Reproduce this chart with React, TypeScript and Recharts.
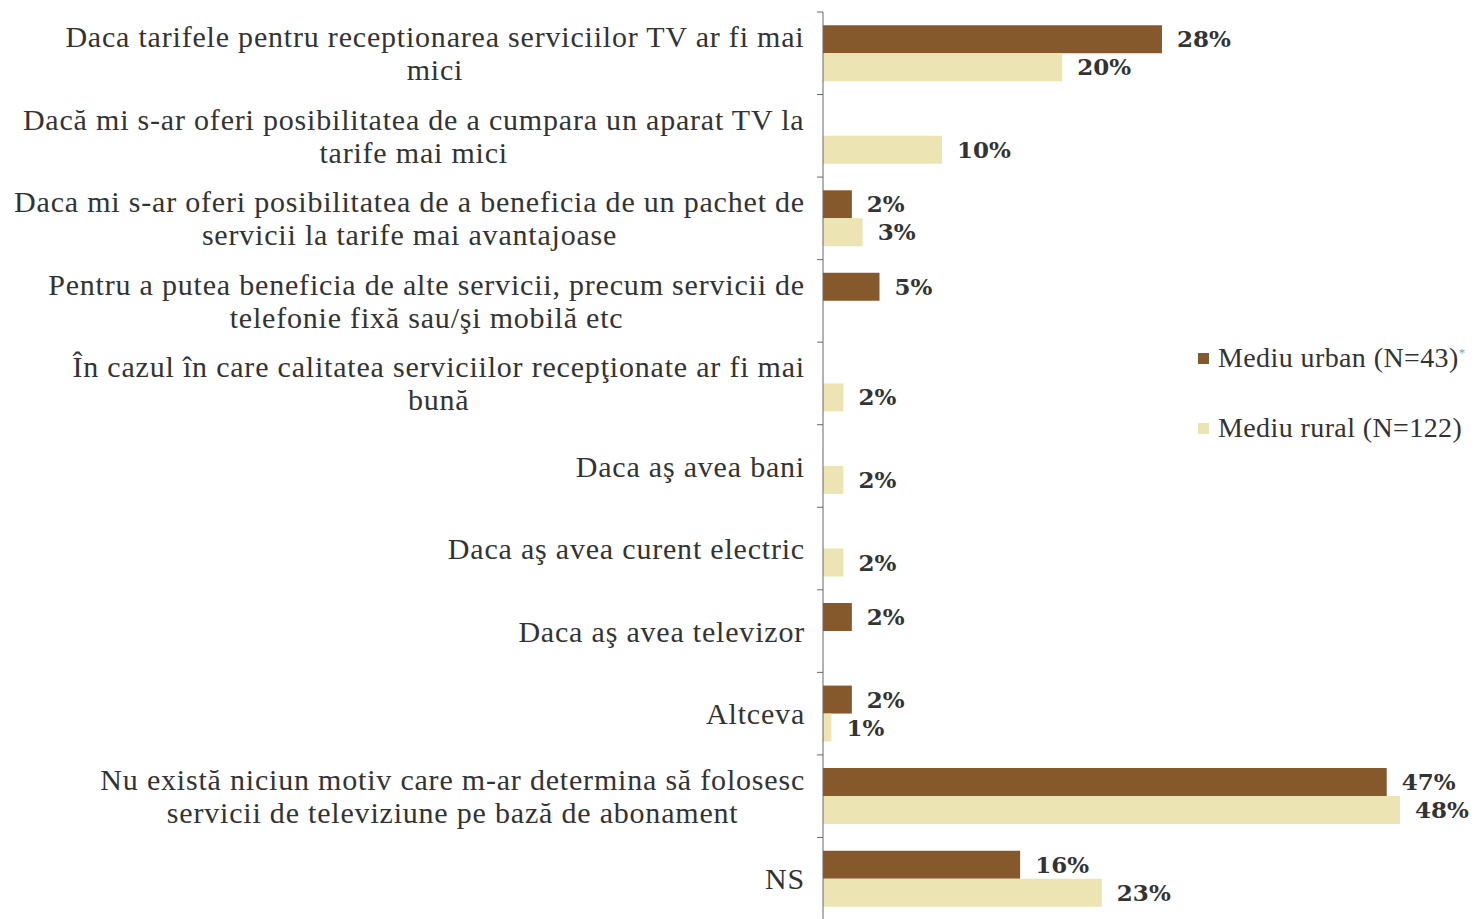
import React from "react";
import { BarChart, Bar, XAxis, YAxis, LabelList } from "recharts";

// category labels, "\n" marks the line breaks used in the original
const categories = [
  "Daca tarifele pentru receptionarea serviciilor TV ar fi mai\nmici",
  "Dacă mi s-ar oferi posibilitatea de a cumpara un aparat TV la\ntarife mai mici",
  "Daca mi s-ar oferi posibilitatea de a beneficia de un pachet de\nservicii la tarife mai avantajoase",
  "Pentru a putea beneficia de alte servicii, precum servicii de\ntelefonie fixă sau/şi mobilă etc",
  "În cazul în care calitatea serviciilor recepţionate ar fi mai\nbună",
  "Daca aş avea bani",
  "Daca aş avea curent electric",
  "Daca aş avea televizor",
  "Altceva",
  "Nu există niciun motiv care m-ar determina să folosesc\nservicii de televiziune pe bază de abonament",
  "NS",
];

const urban = [28.2, null, 2.4, 4.7, null, null, null, 2.4, 2.4, 46.9, 16.4];
const rural = [19.9, 9.9, 3.3, null, 1.7, 1.7, 1.7, null, 0.7, 48.0, 23.2];

const urbanName = "Mediu urban (N=43)";
const ruralName = "Mediu rural (N=122)";

const data = categories.map((name, i) => ({ name, urban: urban[i], rural: rural[i] }));

const W = 1478;
const H = 930;
const TOP = 12;
const BOTTOM = 10;
const AXIS_X = 823;
const LABEL_RIGHT = 805;
const BAND = (H - TOP - BOTTOM) / categories.length;

const URBAN_COLOR = "#86592c";
const RURAL_COLOR = "#ece4b2";
const FONT = '"Liberation Serif", serif';
const CAT_SIZE = 30;
const CAT_SPACING = 0.8;

let ctx: CanvasRenderingContext2D | null = null;
function measure(s: string) {
  if (!ctx) ctx = document.createElement("canvas").getContext("2d");
  if (!ctx) return s.length * 13;
  ctx.font = `${CAT_SIZE}px ${FONT}`;
  return ctx.measureText(s).width + s.length * CAT_SPACING;
}

function CategoryTick(props: any) {
  const { y, payload } = props;
  const lines = String(payload.value).split("\n");
  const maxW = Math.max(...lines.map(measure));
  const cx = LABEL_RIGHT - maxW / 2;
  const lh = 33;
  const y0 = y - ((lines.length - 1) * lh) / 2;
  const ty = y - BAND / 2;
  return (
    <g>
      <line x1={AXIS_X - 6} x2={AXIS_X} y1={ty} y2={ty} stroke="#666" />
      <text fontFamily={FONT} fontSize={CAT_SIZE} letterSpacing={CAT_SPACING} fill="#333" textAnchor="middle">
        {lines.map((l, i) => (
          <tspan key={i} x={cx} y={y0 + i * lh} dy="0.35em">
            {l}
          </tspan>
        ))}
      </text>
    </g>
  );
}

function ValueLabel(props: any) {
  const { x, y, width, height, value } = props;
  if (value == null) return null;
  return (
    <text
      x={x + width + 15}
      y={y + height / 2}
      dy="0.35em"
      fontFamily='"DejaVu Serif", serif'
      fontWeight="bold"
      fontSize={23}
      fill="#333"
    >
      {Math.round(value)}%
    </text>
  );
}

function LegendBox() {
  const items = [
    { name: urbanName, color: URBAN_COLOR, star: true },
    { name: ruralName, color: RURAL_COLOR, star: false },
  ];
  return (
    <div
      style={{
        position: "absolute",
        left: 1198,
        top: 341,
        fontFamily: FONT,
        fontSize: 28,
        letterSpacing: 0.4,
        color: "#333",
        whiteSpace: "nowrap",
      }}
    >
      {items.map((it, i) => (
        <div key={i} style={{ display: "flex", alignItems: "center", height: 34, marginBottom: i === 0 ? 36 : 0 }}>
          <span style={{ width: 11, height: 11, background: it.color, marginRight: 9, display: "inline-block" }} />
          <span>
            {it.name}
            {it.star && <sup style={{ fontSize: 13, color: "#999" }}>*</sup>}
          </span>
        </div>
      ))}
    </div>
  );
}

export default function App() {
  return (
    <div style={{ position: "absolute", left: 0, top: 0, width: W, height: 919, overflow: "hidden", background: "#fff" }}>
      <BarChart
        width={W}
        height={H}
        data={data}
        layout="vertical"
        margin={{ top: TOP, right: 54, bottom: BOTTOM, left: 0 }}
        barCategoryGap="16%"
        barGap={0}
      >
        <XAxis type="number" domain={[0, 50]} hide />
        <YAxis
          type="category"
          dataKey="name"
          width={AXIS_X}
          axisLine={{ stroke: "#666" }}
          tickLine={false}
          interval={0}
          tick={<CategoryTick />}
        />
        <Bar dataKey="urban" name={urbanName} fill={URBAN_COLOR} isAnimationActive={false}>
          <LabelList dataKey="urban" content={<ValueLabel />} />
        </Bar>
        <Bar dataKey="rural" name={ruralName} fill={RURAL_COLOR} isAnimationActive={false}>
          <LabelList dataKey="rural" content={<ValueLabel />} />
        </Bar>
      </BarChart>
      <LegendBox />
    </div>
  );
}
